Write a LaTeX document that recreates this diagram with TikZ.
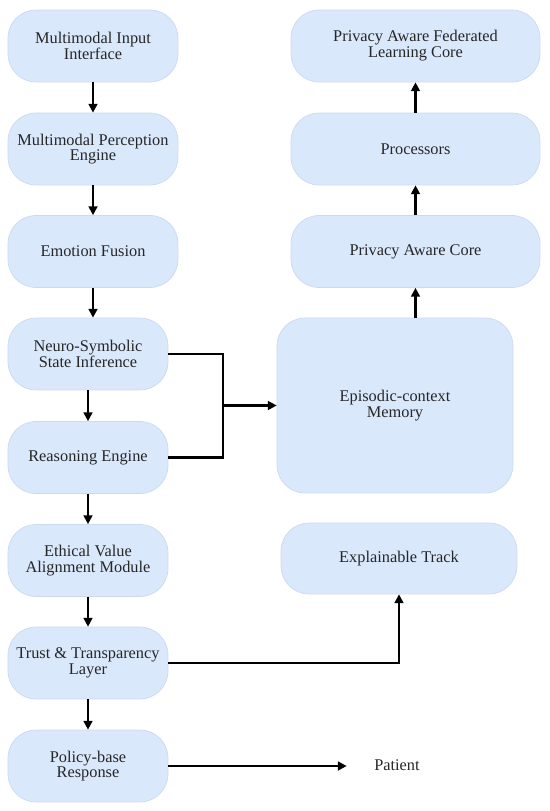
\documentclass[tikz,border=0pt]{standalone}
\usepackage{fontspec}
\setmainfont{Liberation Serif}
\usepackage{tikz}
\usetikzlibrary{arrows.meta}
\usetikzlibrary{positioning}
\definecolor{boxfill}{HTML}{DAE8FC}
\definecolor{boxline}{HTML}{CBDAEE}
\tikzstyle{block} = [rectangle, rounded corners=0.56cm, minimum width=3.4cm, minimum height=1.44cm, text centered, align=center, draw=boxline, fill=boxfill, text=black!85, font=\rmfamily\fontsize{9.3}{9}\selectfont]
\tikzstyle{arrow} = [-{Triangle[length=5pt,width=5pt]}, line width=1.2pt]
\tikzstyle{link} = [line width=1.2pt]

\begin{document}
\begin{tikzpicture}[x=0.02cm, y=-0.02cm]

  \useasboundingbox (0,0) rectangle (550,811);

  % left column
  \node[block] (input) at (93,46) {Multimodal Input\\Interface};
  \node[block] (percep) at (93,149) {Multimodal Perception\\Engine};
  \node[block] (emotion) at (93,251.5) {Emotion Fusion};
  \node[block, minimum width=3.2cm] (neuro) at (88,354) {Neuro-Symbolic\\State Inference};
  \node[block, minimum width=3.2cm] (reason) at (88,457.5) {Reasoning Engine};
  \node[block, minimum width=3.2cm] (ethic) at (88,560.5) {Ethical Value\\Alignment Module};
  \node[block, minimum width=3.2cm] (trust) at (88,663) {Trust \& Transparency\\Layer};
  \node[block, minimum width=3.2cm] (policy) at (88,766) {Policy-base\\Response};

  % right column
  \node[block, minimum width=4.98cm] (fedcore) at (415.5,46) {Privacy Aware Federated\\Learning Core};
  \node[block, minimum width=4.98cm] (proc) at (415.5,149) {Processors};
  \node[block, minimum width=4.98cm] (pacore) at (415.5,251.5) {Privacy Aware Core};
  \node[block, minimum width=4.72cm, minimum height=3.5cm] (memory) at (395,405.5) {Episodic-context\\Memory};
  \node[block, minimum width=4.72cm, minimum height=1.42cm] (explain) at (399,558.5) {Explainable Track};
  \node[text=black!85, font=\rmfamily\fontsize{9.3}{9}\selectfont, minimum width=2cm] (patient) at (397,765) {Patient};

  % main flow
  \draw[arrow] (input) -- (percep);
  \draw[arrow] (percep) -- (emotion);
  \draw[arrow] (emotion.south) -- (emotion.south |- neuro.north);
  \draw[arrow] (neuro) -- (reason);
  \draw[arrow] (reason) -- (ethic);
  \draw[arrow] (ethic) -- (trust);
  \draw[arrow] (trust) -- (policy);

  % join to memory
  \coordinate (join) at (223,405.5);
  \draw[link] (neuro.east) -| (join) |- (reason.east);
  \draw[arrow] (join) -- (memory.west);

  % memory upwards
  \draw[arrow] (pacore.south |- memory.north) -- (pacore.south);
  \draw[arrow] (pacore) -- (proc);
  \draw[arrow] (proc) -- (fedcore);

  % outputs
  \draw[arrow] (trust.east) -| (explain.south);
  \draw[arrow] (policy.east) -- (policy.east -| patient.west);

\end{tikzpicture}
\end{document}
